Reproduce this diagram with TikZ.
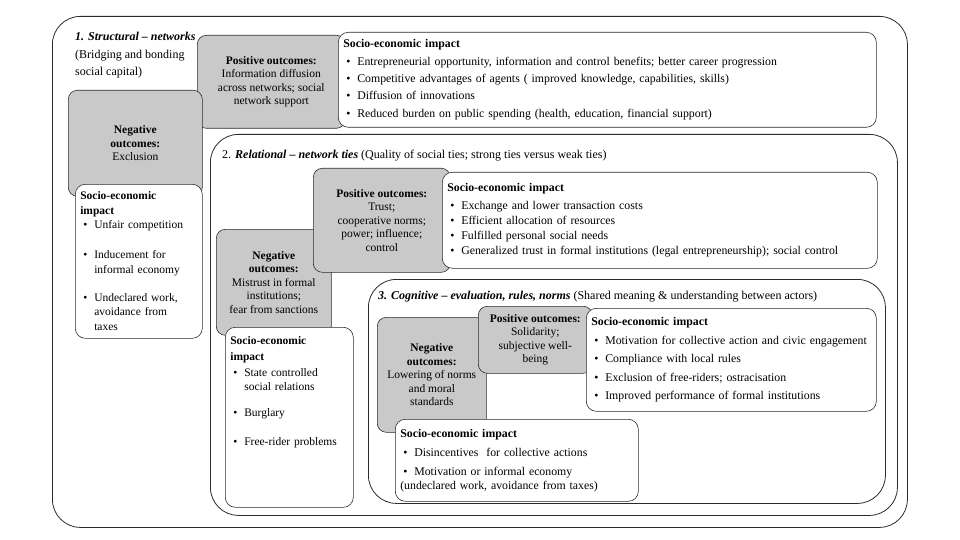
\documentclass[tikz,border=0pt]{standalone}
\usepackage{fontspec}
\setmainfont{Liberation Serif}
\usepackage{xcolor}
\definecolor{cLine}{HTML}{2B2B2B}
\definecolor{cShade}{HTML}{C9C9C9}
\usepackage{tikz}
\usetikzlibrary{positioning}
\newcommand{\fsTitle}{\fontsize{12}{17}\selectfont}
\newcommand{\fsList}{\fontsize{11.8}{14}\selectfont}
\newcommand{\fsNarrow}{\fontsize{11.5}{14.5}\selectfont}
\newcommand{\fsShade}{\fontsize{11.5}{13.5}\selectfont}
\newcommand{\bpt}{\hspace*{3pt}\makebox[11pt][l]{\textbullet}}
\newcommand{\bind}{\hspace*{14pt}}
\tikzset{
  frame-level/.style={draw=cLine,line width=0.8pt,rounded corners=28pt,
    anchor=north west,inner sep=0pt},
  % grey boxes: positive / negative outcomes
  node-outcome/.style={draw=cLine,line width=0.6pt,fill=cShade,
    rounded corners=9pt,anchor=north west,align=center,inner sep=0pt,
    font=\fsShade},
  % white boxes: socio-economic impact lists
  node-impact/.style={draw=cLine,line width=0.6pt,fill=white,
    rounded corners=10pt,anchor=north west,align=left,inner xsep=5pt,
    inner ysep=0pt,font=\fsList},
  node-narrow/.style={node-impact,font=\fsNarrow},
  label-title/.style={anchor=north west,inner sep=0pt,align=left,font=\fsTitle},
}

\begin{document}
\begin{tikzpicture}[x=1pt,y=-1pt]
  \fill[white] (0,0) rectangle (960,540);
  \useasboundingbox (0,0) rectangle (960,540);

  \node[frame-level,minimum width=855,minimum height=511] (lvl-struct) at (52,16) {};
  \node[frame-level,minimum width=687,minimum height=381] (lvl-rel) at (210,134) {};
  \node[frame-level,minimum width=517,minimum height=224] (lvl-cog) at (368,279) {};

  % 1. structural
  \node[label-title] (t-struct) at (75,32)
    {\textbf{\textit{1. Structural -- networks}}\\[0.5pt](Bridging and bonding\\[0.5pt]social capital)};
  \node[node-outcome,minimum width=148,minimum height=93] (pos-struct) at (197,35)
    {\textbf{Positive outcomes:}\\Information diffusion\\across networks; social\\network support};
  \node[node-impact,text width=528,minimum height=95] (imp-struct) at (338,32)
    {\textbf{Socio-economic impact}\\[3.5pt]
     \bpt Entrepreneurial opportunity, information and control benefits; better career progression\\[3pt]
     \bpt Competitive advantages of agents ( improved knowledge, capabilities, skills)\\[3.5pt]
     \bpt Diffusion of innovations\\[3.5pt]
     \bpt Reduced burden on public spending (health, education, financial support)};
  \node[node-outcome,minimum width=134,minimum height=106] (neg-struct) at (68,90)
    {\textbf{Negative}\\\textbf{outcomes:}\\Exclusion};
  \node[node-narrow,text width=117,minimum height=154] (impn-struct) at (75,184)
    {\textbf{Socio-economic}\\\textbf{impact}\\
     \bpt Unfair competition\\[15.5pt]
     \bpt Inducement for\\\bind informal economy\\[13.5pt]
     \bpt Undeclared work,\\\bind avoidance from\\\bind taxes};

  % 2. relational
  \node[label-title,anchor=west] (t-rel) at (222,156)
    {2. \textbf{\textit{Relational -- network ties}} (Quality of social ties; strong ties versus weak ties)};
  \node[node-outcome,minimum width=115,minimum height=106] (neg-rel) at (216,229)
    {\textbf{Negative}\\\textbf{outcomes:}\\Mistrust in formal\\institutions;\\fear from sanctions};
  \node[node-outcome,minimum width=137,minimum height=104] (pos-rel) at (313,168)
    {\textbf{Positive outcomes:}\\Trust;\\cooperative norms;\\power; influence;\\control};
  \node[node-impact,text width=425,minimum height=96] (imp-rel) at (442,172)
    {\textbf{Socio-economic impact}\\[4pt]
     \bpt Exchange and lower transaction costs\\[1pt]
     \bpt Efficient allocation of resources\\[1pt]
     \bpt Fulfilled personal social needs\\[1pt]
     \bpt Generalized trust in formal institutions (legal entrepreneurship); social control};
  \node[node-narrow,text width=118,minimum height=180] (impn-rel) at (225,327)
    {\textbf{Socio-economic}\\[1.5pt]\textbf{impact}\\[1.5pt]
     \bpt State controlled\\\bind social relations\\[11.5pt]
     \bpt Burglary\\[14.5pt]
     \bpt Free-rider problems\\[38pt]\mbox{}};

  % 3. cognitive
  \node[label-title,anchor=west] (t-cog) at (378,297)
    {\textbf{\textit{3. Cognitive -- evaluation, rules, norms}} (Shared meaning \& understanding between actors)};
  \node[node-outcome,minimum width=109,minimum height=115] (neg-cog) at (377,317)
    {\textbf{Negative}\\\textbf{outcomes:}\\Lowering of norms\\and moral\\standards};
  \node[node-outcome,minimum width=114,minimum height=67] (pos-cog) at (478,306)
    {\textbf{Positive outcomes:}\\Solidarity;\\subjective well-\\being};
  \node[node-impact,text width=280,minimum height=103] (imp-cog) at (586,308)
    {\textbf{Socio-economic impact}\\[4.5pt]
     \bpt Motivation for collective action and civic engagement\\[4.5pt]
     \bpt Compliance with local rules\\[4.5pt]
     \bpt Exclusion of free-riders; ostracisation\\[4.5pt]
     \bpt Improved performance of formal institutions};
  \node[node-impact,text width=233,minimum height=82] (impn-cog) at (395,419)
    {\textbf{Socio-economic impact}\\[5pt]
     \bpt Disincentives\ \ for collective actions\\[5pt]
     \bpt Motivation or informal economy\\(undeclared work, avoidance from taxes)};
\end{tikzpicture}
\end{document}
